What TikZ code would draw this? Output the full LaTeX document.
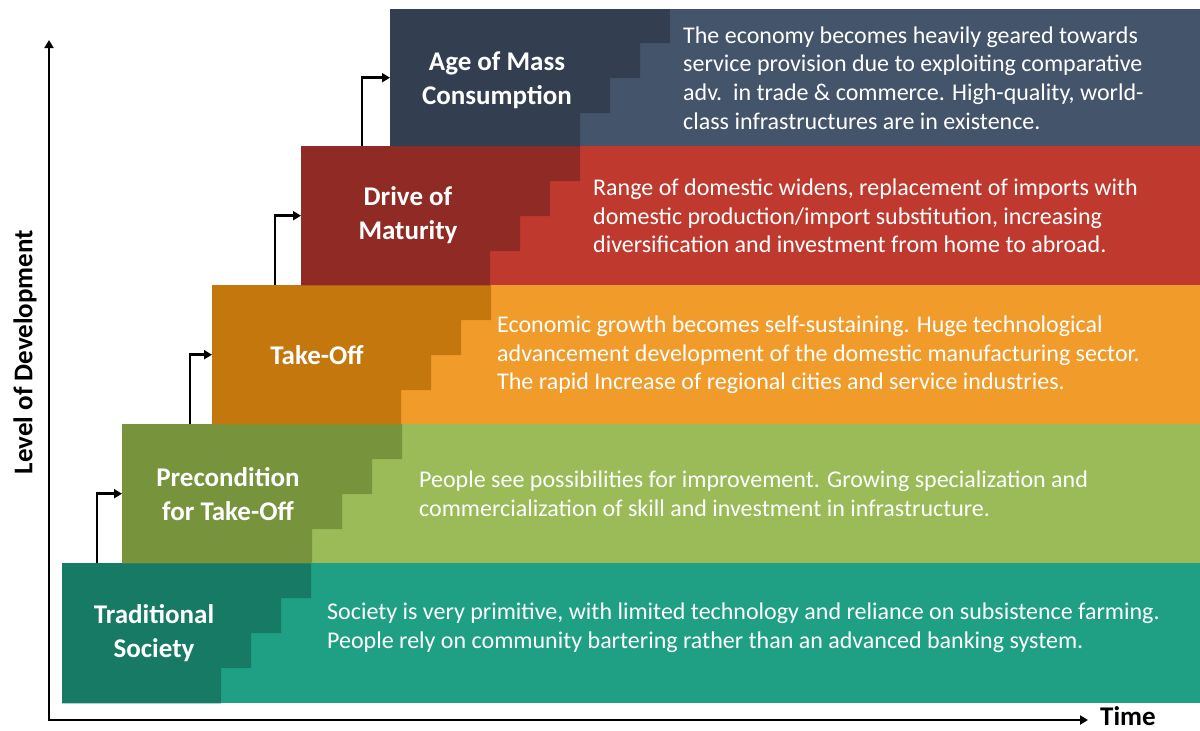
\documentclass[tikz,border=0pt]{standalone}
\usepackage{fontspec}
\setmainfont{Carlito}
\usetikzlibrary{arrows.meta,positioning}

\definecolor{tradlight}{HTML}{1FA085}
\definecolor{traddark}{HTML}{177A64}
\definecolor{prelight}{HTML}{9BBB59}
\definecolor{predark}{HTML}{77933C}
\definecolor{takelight}{HTML}{F19B2B}
\definecolor{takedark}{HTML}{C4770D}
\definecolor{drivelight}{HTML}{C0392F}
\definecolor{drivedark}{HTML}{8F2A24}
\definecolor{masslight}{HTML}{44546A}
\definecolor{massdark}{HTML}{333F50}

\tikzset{
  band/.style={anchor=north west, inner sep=0pt, minimum height=139pt},
  stagelabel/.style={text=white, font=\fontsize{27}{33.5}\selectfont\bfseries, align=center},
  stagetext/.style={text=white, font=\fontsize{24}{28.7}\selectfont, align=left, anchor=west, inner sep=0pt},
  uparrow/.style={line width=2.5pt, -{Triangle[length=8pt,width=9pt]}},
  axislabel/.style={font=\fontsize{27}{30}\selectfont\bfseries, inner sep=0pt},
}

\begin{document}
\begin{tikzpicture}[x=1pt,y=-1pt]
\useasboundingbox (0,0) rectangle (1200,731);

% bands, bottom to top
\node[band, minimum width=1138pt, minimum height=140pt, fill=tradlight] (trad) at (62,563) {};
\node[band, minimum width=1078pt, fill=prelight] (precond) at (122,424) {};
\node[band, minimum width=988pt, fill=takelight] (takeoff) at (212,285) {};
\node[band, minimum width=899pt, fill=drivelight] (drive) at (301,146) {};
\node[band, minimum width=810pt, minimum height=137pt, fill=masslight] (mass) at (390,9) {};

% darker stairs behind the stage names
\fill[traddark] (trad.north west) -- (311,563) -- ++(0,35) -- ++(-30,0) -- ++(0,35) -- ++(-30,0) -- ++(0,35) -- ++(-30,0) |- (trad.south west) -- cycle;
\fill[predark] (precond.north west) -- (402,424) -- ++(0,35) -- ++(-30,0) -- ++(0,35) -- ++(-30,0) -- ++(0,35) -- ++(-30,0) |- (precond.south west) -- cycle;
\fill[takedark] (takeoff.north west) -- (491,285) -- ++(0,35) -- ++(-30,0) -- ++(0,35) -- ++(-30,0) -- ++(0,35) -- ++(-30,0) |- (takeoff.south west) -- cycle;
\fill[drivedark] (drive.north west) -- (580,146) -- ++(0,35) -- ++(-30,0) -- ++(0,35) -- ++(-30,0) -- ++(0,35) -- ++(-30,0) |- (drive.south west) -- cycle;
\fill[massdark] (mass.north west) -- (670,9) -- ++(0,34) -- ++(-30,0) -- ++(0,35) -- ++(-30,0) -- ++(0,35) -- ++(-30,0) |- (mass.south west) -- cycle;

% stage names
\node[stagelabel] (tradlabel) at (154,633) {Traditional\\Society};
\node[stagelabel] (prelabel) at (228,494) {Precondition\\for Take-Off};
\node[stagelabel] (takelabel) at (317,355) {Take-Off};
\node[stagelabel] (drivelabel) at (408,215) {Drive of\\Maturity};
\node[stagelabel] (masslabel) at (497,80) {Age of Mass\\Consumption};

% descriptions
\node[stagetext] (tradtext) at (327,628) {Society is very primitive, with limited technology and reliance on subsistence farming.\\People rely on community bartering rather than an advanced banking system.};
\node[stagetext] (pretext) at (419,494) {People see possibilities for improvement. Growing specialization and\\commercialization of skill and investment in infrastructure.};
\node[stagetext] (taketext) at (497,355) {Economic growth becomes self-sustaining. Huge technological\\advancement development of the domestic manufacturing sector.\\The rapid Increase of regional cities and service industries.};
\node[stagetext] (drivetext) at (593,216) {Range of domestic widens, replacement of imports with\\domestic production/import substitution, increasing\\diversification and investment from home to abroad.};
\node[stagetext] (masstext) at (683,78) {The economy becomes heavily geared towards\\service provision due to exploiting comparative\\adv.\ \ in trade \& commerce. High-quality, world-\\class infrastructures are in existence.};

% steps up
\draw[uparrow] ([xshift=35pt]trad.north west) |- (precond.west);
\draw[uparrow] ([xshift=68pt]precond.north west) |- (takeoff.west);
\draw[uparrow] ([xshift=63pt]takeoff.north west) |- (drive.west);
\draw[uparrow] ([xshift=61pt]drive.north west) |- (mass.west);

% axes
\coordinate (ytop) at (49,40);
\coordinate (xend) at (1088,720);
\draw[line width=2.5pt, {Triangle[length=8pt,width=9pt]}-{Triangle[length=8pt,width=9pt]}] (ytop) |- (xend);
\node[axislabel, anchor=base west] (time) at ([xshift=12pt,yshift=-5pt]xend) {Time};
\node[axislabel, rotate=90] (level) at (25,352) {Level of Development};
\end{tikzpicture}
\end{document}
